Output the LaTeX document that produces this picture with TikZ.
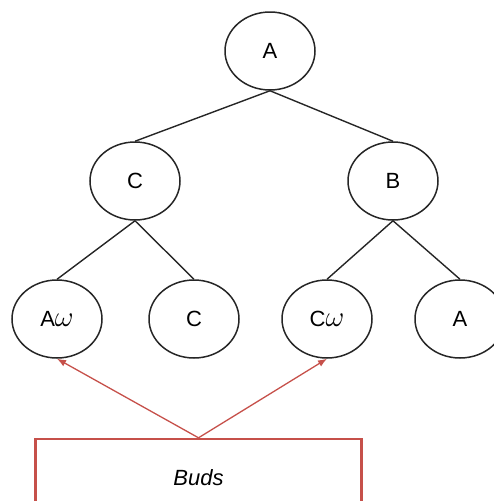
\documentclass[tikz,border=0pt]{standalone}
\usepackage{fontspec}
\setmainfont{Liberation Sans}
\usepackage{fix-cm}
\usetikzlibrary{shapes.geometric,arrows.meta}
\definecolor{budred}{RGB}{198,80,74}
\newcommand{\omg}{{\fontsize{29}{30}\selectfont$\omega$}}

\begin{document}
\begin{tikzpicture}[x=1pt,y=-1pt,font=\fontsize{22}{26}\selectfont]
    \tikzstyle{tree node}=[ellipse,draw=black!85,line width=1.5pt,minimum width=90pt,minimum height=78pt,inner sep=0pt]
    \tikzstyle{tree edge}=[draw=black!85,line width=1.4pt]
    \tikzstyle{bud box}=[rectangle,draw=budred,line width=2.4pt,minimum width=326pt,minimum height=78pt,font=\fontsize{22}{26}\selectfont\itshape]
    \tikzstyle{bud arrow}=[->,>={Latex[length=9pt,width=7pt]},draw=budred,line width=1.3pt]

    \clip (0,0) rectangle (494,501);

    % root
    \node[tree node] (R) at (270,51) {A};

    % second level
    \node[tree node] (L) at (135,181) {C};
    \node[tree node] (M) at (393,181) {B};

    % leaves
    \node[tree node] (L-1) at (57,319) {A\omg};
    \node[tree node] (L-2) at (194,319) {C};
    \node[tree node] (M-1) at (327,319) {C\omg};
    \node[tree node] (M-2) at (460,319) {A};

    % connect the tree
    \foreach \source / \dest in {R/L,R/M,L/L-1,L/L-2,M/M-1,M/M-2}
        \path[tree edge] (\source.south) -- (\dest.north);

    % the buds
    \node[bud box] (buds) at (198.5,478) {Buds};
    \foreach \dest in {L-1,M-1}
        \path[bud arrow] (buds.north) -- (\dest.south);
\end{tikzpicture}
\end{document}
